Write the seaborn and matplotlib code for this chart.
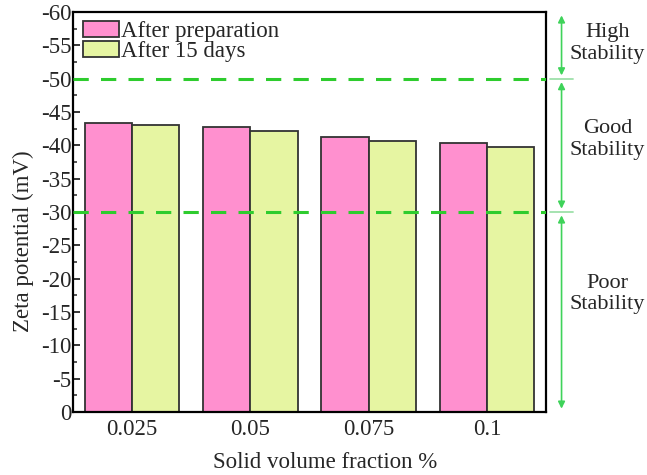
import matplotlib
matplotlib.use("Agg")
import matplotlib.pyplot as plt
import matplotlib.transforms as mtransforms
from matplotlib.ticker import MultipleLocator
import seaborn as sns
import pandas as pd

categories = ["0.025", "0.05", "0.075", "0.1"]
after_prep = [-43.4, -42.7, -41.2, -40.4]
after_15 = [-43.0, -42.1, -40.6, -39.8]
series_names = ["After preparation", "After 15 days"]
yticks = [0, -5, -10, -15, -20, -25, -30, -35, -40, -45, -50, -55, -60]
thresholds = [-50, -30]
zone_labels = ["High\nStability", "Good\nStability", "Poor\nStability"]
zone_bounds = [(-60, -50), (-50, -30), (-30, 0)]
zone_text_y = [-55.3, -40.9, -17.7]

df = pd.DataFrame({
    "fraction": categories * 2,
    "zeta": after_prep + after_15,
    "series": [series_names[0]] * 4 + [series_names[1]] * 4,
})

sns.set_theme(style="ticks")
plt.rcParams["font.family"] = ["Liberation Serif", "DejaVu Serif"]

fig = plt.figure(figsize=(6.47, 4.75), dpi=100)
ax = fig.add_axes([0.1128, 0.1326, 0.731, 0.842])

palette = {series_names[0]: "#FF90CF", series_names[1]: "#E6F5A2"}
sns.barplot(data=df, x="fraction", y="zeta", hue="series", palette=palette,
            order=categories, hue_order=series_names, width=0.8,
            edgecolor="#333333", linewidth=1.3, saturation=1, ax=ax, legend=True)

ax.set_ylim(0, -60)
ax.set_xlim(-0.5, 3.5)
ax.set_yticks(yticks)
ax.set_yticklabels([str(t) for t in yticks])
ax.yaxis.set_minor_locator(MultipleLocator(2.5))
ax.tick_params(axis="y", which="major", direction="in", length=5, width=1.3, labelsize=16.5, pad=1)
ax.tick_params(axis="y", which="minor", direction="in", length=3, width=1.1)
ax.tick_params(axis="x", length=0, labelsize=16.5, pad=5)
for s in ax.spines.values():
    s.set_visible(True)
    s.set_linewidth(1.6)
    s.set_color("black")

ax.set_xlabel("Solid volume fraction %", fontsize=16.5)
ax.set_ylabel("Zeta potential (mV)", fontsize=16.5)
ax.xaxis.set_label_coords(0.533, -0.1)
ax.yaxis.set_label_coords(-0.083, 0.4275)

for t in thresholds:
    ax.axhline(t, color="#2ECC2E", lw=2.2, ls=(0, (5, 4)), zorder=5)

leg = ax.legend(loc="upper left", bbox_to_anchor=(-0.012, 1.018), frameon=False, fontsize=16.5,
                handlelength=1.55, handleheight=0.7, handletextpad=0.1, labelspacing=-0.04,
                borderaxespad=0.3)

trans = mtransforms.blended_transform_factory(ax.transAxes, ax.transData)
arrow_color = "#3FD35A"
for t in thresholds:
    ax.plot([1.008, 1.057], [t, t], transform=trans, color="#9EE0AA", lw=1.3, clip_on=False)
for label, (y0, y1), ty in zip(zone_labels, zone_bounds, zone_text_y):
    ax.annotate("", xy=(1.033, y0 + 0.5), xytext=(1.033, y1 - 0.5), xycoords=trans, textcoords=trans,
                arrowprops=dict(arrowstyle="<|-|>", color=arrow_color, lw=1.2,
                                mutation_scale=10, shrinkA=0, shrinkB=0),
                annotation_clip=False)
    ax.text(1.13, ty, label, transform=trans, ha="center", va="center", fontsize=16,
            linespacing=1.2)

fig.savefig("out.png", dpi=100)
